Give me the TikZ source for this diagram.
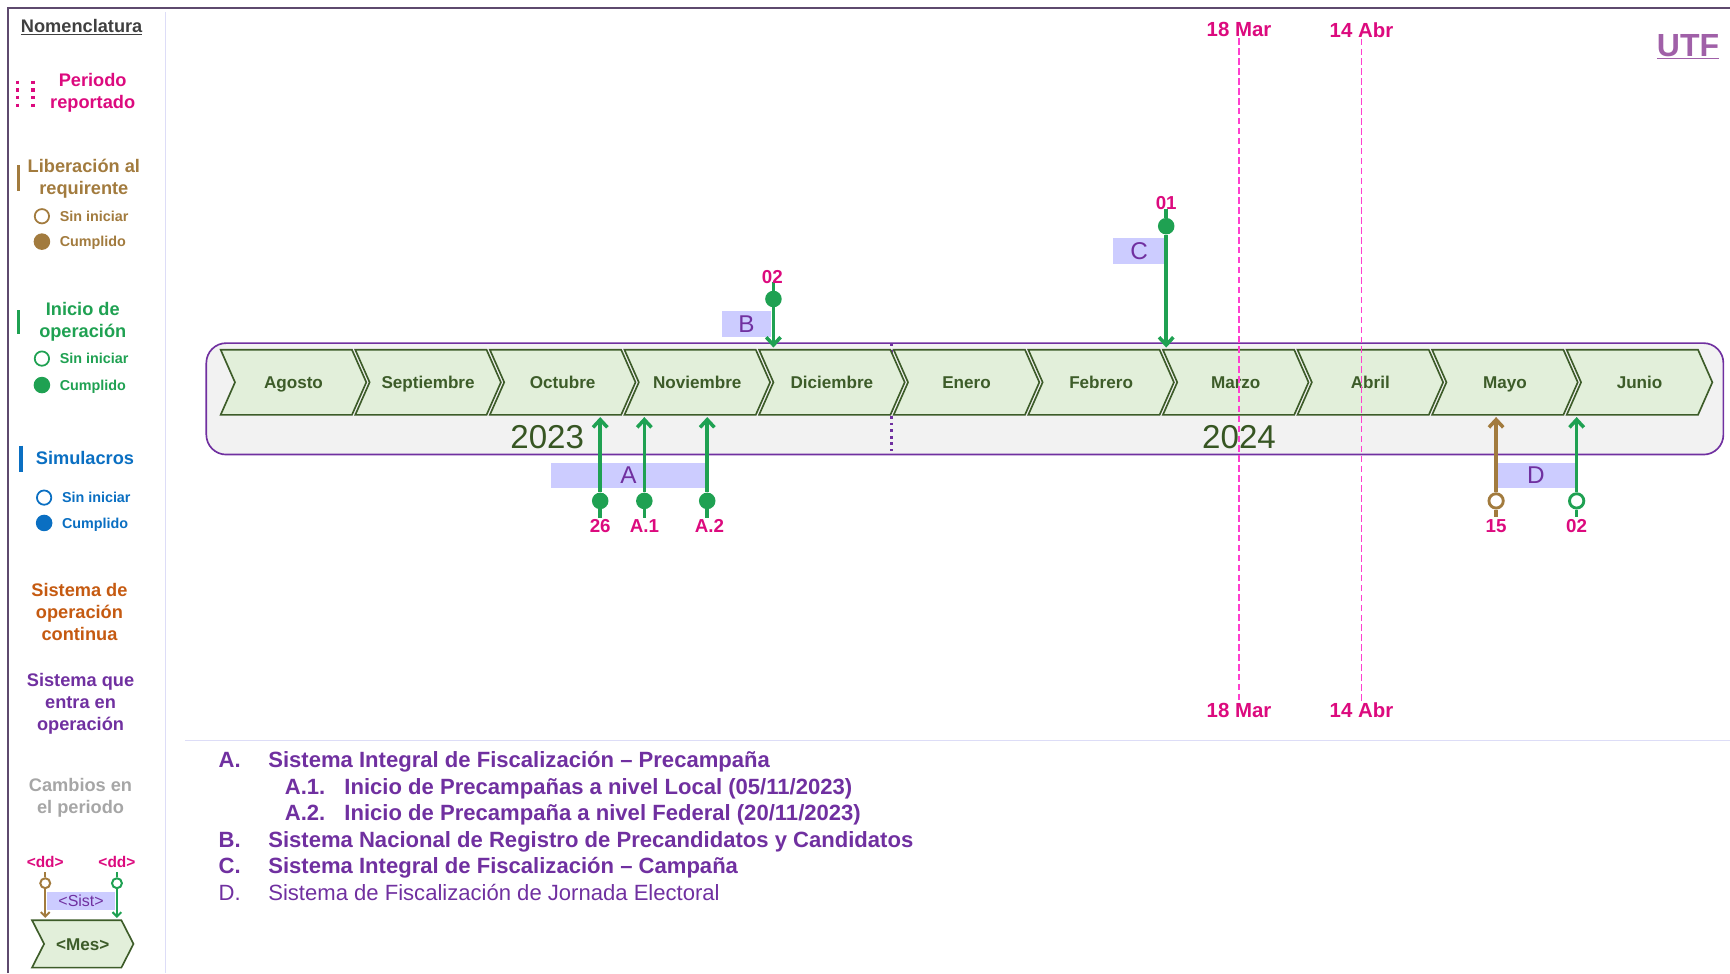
\documentclass[tikz,border=0pt]{standalone}
\usepackage{fontspec}
\setmainfont{Liberation Sans}
\usetikzlibrary{arrows.meta}
\definecolor{magc}{HTML}{DC0A7E}
\definecolor{pinkd}{HTML}{FF3FCF}
\definecolor{grn}{HTML}{1FA152}
\definecolor{brn}{HTML}{A27B3E}
\definecolor{blu}{HTML}{0A6FC2}
\definecolor{org}{HTML}{C55A11}
\definecolor{pur}{HTML}{7030A0}
\definecolor{gry}{HTML}{A6A6A6}
\definecolor{chevf}{HTML}{E2EFDA}
\definecolor{chevd}{HTML}{3D5C29}
\definecolor{lav}{HTML}{CCCCFF}
\definecolor{utfc}{HTML}{A060A8}
\definecolor{framec}{HTML}{5E4A6E}
\definecolor{sepc}{HTML}{DDDDF7}
\definecolor{boxbg}{HTML}{F2F2F2}
\definecolor{nomc}{HTML}{404040}
\definecolor{yearc}{HTML}{375623}
\newcommand{\fsz}[1]{\fontsize{#1}{#1}\selectfont}
\begin{document}
\begin{tikzpicture}[x=1pt,y=-1pt,
  chev/.style={fill=chevf,draw=chevd,line width=1.5pt,line join=miter},
  monthtxt/.style={text=chevd,font=\bfseries\fsz{15.5},inner sep=0pt,anchor=base},
  yeartxt/.style={text=yearc,font=\fsz{30},inner sep=0pt},
  datelbl/.style={text=magc,font=\bfseries\fsz{18.5},inner sep=1pt},
  daylbl/.style={text=magc,font=\bfseries\fsz{17},inner sep=0pt},
  pinkdash/.style={draw=pinkd,line width=1.6pt,dash pattern=on 6pt off 3pt},
  sistbox/.style={fill=lav,text=pur,font=\fsz{22},inner sep=0pt},
  gline/.style={draw=grn,line width=3.2pt},
  bline/.style={draw=brn,line width=3.2pt},
  tip/.style={-{Straight Barb[length=7pt,width=13pt]}},
  gdot/.style={circle,fill=grn,minimum size=15pt,inner sep=0pt},
  gring/.style={circle,draw=grn,fill=white,line width=2.6pt,minimum size=13pt,inner sep=0pt},
  bring/.style={circle,draw=brn,fill=white,line width=2.6pt,minimum size=13pt,inner sep=0pt},
  hdr/.style={font=\bfseries\fontsize{16.5}{20}\selectfont,align=center,inner sep=0pt},
  smalltxt/.style={font=\bfseries\fsz{13},anchor=base west,inner sep=0pt},
  legtxt/.style={text=pur,font=\bfseries\fsz{20},anchor=base west,inner sep=0pt},
  legtxtn/.style={text=pur,font=\fsz{20},anchor=base west,inner sep=0pt}
]
\useasboundingbox (0,0) rectangle (1568,882);
% frame
\draw[framec,line width=2pt] (7.5,882) -- (7.5,7.5) -- (1568,7.5);
\draw[sepc,line width=1.5pt] (150,11) -- (150,882);
\draw[sepc,line width=1.5pt] (168,671) -- (1568,671);

% ===== legend (Nomenclatura)
\node[hdr,text=nomc] (nom) at (74,25) {\underline{Nomenclatura}};
\draw[magc,line width=3pt,dash pattern=on 3pt off 4pt] (16,73) -- (16,97);
\draw[magc,line width=3pt,dash pattern=on 3pt off 4pt] (30,73) -- (30,97);
\node[hdr,text=magc] (per) at (84,84) {Periodo\\reportado};

\draw[brn,line width=3pt] (17,150) -- (17,173);
\node[hdr,text=brn] (lib) at (76,162) {Liberación al\\requirente};
\node[circle,draw=brn,line width=1.6pt,minimum size=13pt,inner sep=0pt] (libs) at (38,196) {};
\node[smalltxt,text=brn] (libst) at (54,200.7) {Sin iniciar};
\node[circle,fill=brn,minimum size=15pt,inner sep=0pt] (libc) at (38,219) {};
\node[smalltxt,text=brn] (libct) at (54,223.7) {Cumplido};

\draw[grn,line width=3pt] (17,281) -- (17,303);
\node[hdr,text=grn] (ini) at (75,291.5) {Inicio de\\operación};
\node[circle,draw=grn,line width=1.6pt,minimum size=13pt,inner sep=0pt] (inis) at (38,325) {};
\node[smalltxt,text=grn] (inist) at (54,329.7) {Sin iniciar};
\node[circle,fill=grn,minimum size=15pt,inner sep=0pt] (inic) at (38,349) {};
\node[smalltxt,text=grn] (inict) at (54,353.7) {Cumplido};

\draw[blu,line width=3pt] (19,404) -- (19,428);
\node[hdr,text=blu] (sim) at (77,415) {Simulacros};
\node[circle,draw=blu,line width=1.6pt,minimum size=13pt,inner sep=0pt] (sims) at (40,451) {};
\node[smalltxt,text=blu] (simst) at (56,455.7) {Sin iniciar};
\node[circle,fill=blu,minimum size=15pt,inner sep=0pt] (simc) at (40,474) {};
\node[smalltxt,text=blu] (simct) at (56,478.7) {Cumplido};

\node[hdr,text=org] (cont) at (72,554.5) {Sistema de\\operación\\continua};
\node[hdr,text=pur] (entra) at (73,638) {Sistema que\\entra en\\operación};
\node[hdr,text=gry] (camb) at (73,723) {Cambios en\\el periodo};

\node[text=magc,font=\bfseries\fsz{14},inner sep=0pt] (dd1) at (41,781) {<dd>};
\node[text=magc,font=\bfseries\fsz{14},inner sep=0pt] (dd2) at (106,781) {<dd>};
\node[sistbox,font=\fsz{14.5},minimum width=61pt,minimum height=16pt] (sist) at (73.5,816.5) {<Sist>};
\draw[chev] (29,834) -- (110,834) -- (121,855.5) -- (110,877) -- (29,877) -- (40,855.5) -- cycle;
\node[monthtxt,font=\bfseries\fsz{15.5}] (mes) at (75,861.5) {<Mes>};
\coordinate (dd1t) at (41,832);
\coordinate (dd2t) at (106,832);
\node[circle,draw=brn,fill=white,line width=1.8pt,minimum size=9pt,inner sep=0pt] (dd1c) at (41,800.5) {};
\node[circle,draw=grn,fill=white,line width=1.8pt,minimum size=9pt,inner sep=0pt] (dd2c) at (106,800.5) {};
\draw[brn,line width=1.8pt] (dd1c.north) -- ++(0,-5);
\draw[brn,line width=1.8pt,-{Straight Barb[length=4pt,width=8pt]}] (dd1c.south) -- (dd1t);
\draw[grn,line width=1.8pt] (dd2c.north) -- ++(0,-5);
\draw[grn,line width=1.8pt,-{Straight Barb[length=4pt,width=8pt]}] (dd2c.south) -- (dd2t);

% ===== timeline band
\draw[rounded corners=18pt,fill=boxbg,draw=pur,line width=1.5pt] (187,311) rectangle (1562,412);
\draw[pur,line width=2.6pt,dash pattern=on 2.5pt off 3.5pt] (808,311) -- (808,409);
\foreach \m [count=\i from 0] in {Agosto,Septiembre,Octubre,Noviembre,Diciembre,Enero,Febrero,Marzo,Abril,Mayo,Junio}{
  \pgfmathsetmacro\xl{200+122*\i}
  \draw[chev] (\xl,317) -- (\xl+119,317) -- (\xl+132,346.5) -- (\xl+119,376) -- (\xl,376) -- (\xl+13,346.5) -- cycle;
  \node[monthtxt] (m\i) at (\xl+66,352) {\m};
}
\node[yeartxt] (y23) at (496,396) {2023};
\node[yeartxt] (y24) at (1123,396) {2024};

% reported period lines
\node[datelbl] (mar18t) at (1123,27) {18 Mar};
\node[datelbl] (mar18b) at (1123,644) {18 Mar};
\node[datelbl] (abr14t) at (1234,27) {14 Abr};
\node[datelbl] (abr14b) at (1234,644) {14 Abr};
\draw[pinkdash] (mar18t.south) -- (mar18b.north);
\draw[pinkdash] (abr14t.south) -- (abr14b.north);

% UTF
\node[text=utfc,font=\bfseries\fsz{29},inner sep=0pt] (utf) at (1530,42) {\underline{UTF}};

% system boxes
\node[sistbox,minimum width=141pt,minimum height=22pt] (boxA) at (569.5,431) {A};
\node[sistbox,minimum width=45pt,minimum height=23pt] (boxB) at (676.5,293.5) {B};
\node[sistbox,minimum width=47pt,minimum height=23pt] (boxC) at (1032.5,227.5) {C};
\node[sistbox,minimum width=72pt,minimum height=22pt] (boxD) at (1392,431) {D};

% arrow targets on the months
\coordinate (t26) at (544,378);
\coordinate (tA1) at (584,378);
\coordinate (tA2) at (641,378);
\coordinate (tB) at (701,315);
\coordinate (tC) at (1057,315);
\coordinate (t15) at (1356,378);
\coordinate (t02) at (1429,378);

% events
\node[gdot] (d26) at (544,454) {};
\node[gdot] (dA1) at (584,454) {};
\node[gdot] (dA2) at (641,454) {};
\node[gdot] (dB) at (701,271) {};
\node[gdot] (dC) at (1057,205) {};
\node[bring] (d15) at (1356,454) {};
\node[gring] (d02) at (1429,454) {};

\draw[gline,tip] (d26) -- (t26);
\draw[gline] (d26.south) -- ++(0,8);
\draw[gline,tip] (dA1) -- (tA1);
\draw[gline] (dA1.south) -- ++(0,8);
\draw[gline,tip] (dA2) -- (tA2);
\draw[gline] (dA2.south) -- ++(0,8);
\draw[gline,tip] (dB) -- (tB);
\draw[gline] (dB.north) -- ++(0,-8);
\draw[gline,tip] (dC) -- (tC);
\draw[gline] (dC.north) -- ++(0,-8);
\draw[bline,tip] (d15.north) -- (t15);
\draw[bline] (d15.south) -- ++(0,7);
\draw[gline,tip] (d02.north) -- (t02);
\draw[gline] (d02.south) -- ++(0,7);

\node[daylbl] (l26) at (544,477) {26};
\node[daylbl] (lA1) at (584,477) {A.1};
\node[daylbl] (lA2) at (643,477) {A.2};
\node[daylbl] (lB) at (700,251) {02};
\node[daylbl] (lC) at (1057,184) {01};
\node[daylbl] (l15) at (1356,477) {15};
\node[daylbl] (l02) at (1429,477) {02};

% ===== bottom list
\node[legtxt] (iA) at (198,696) {A.};
\node[legtxt] (iAt) at (243,696) {Sistema Integral de Fiscalización – Precampaña};
\node[legtxt] (iA1) at (258,720) {A.1.};
\node[legtxt] (iA1t) at (312,720) {Inicio de Precampañas a nivel Local (05/11/2023)};
\node[legtxt] (iA2) at (258,744) {A.2.};
\node[legtxt] (iA2t) at (312,744) {Inicio de Precampaña a nivel Federal (20/11/2023)};
\node[legtxt] (iB) at (198,768) {B.};
\node[legtxt] (iBt) at (243,768) {Sistema Nacional de Registro de Precandidatos y Candidatos};
\node[legtxt] (iC) at (198,792) {C.};
\node[legtxt] (iCt) at (243,792) {Sistema Integral de Fiscalización – Campaña};
\node[legtxtn] (iD) at (198,816) {D.};
\node[legtxtn] (iDt) at (243,816) {Sistema de Fiscalización de Jornada Electoral};
\end{tikzpicture}
\end{document}
